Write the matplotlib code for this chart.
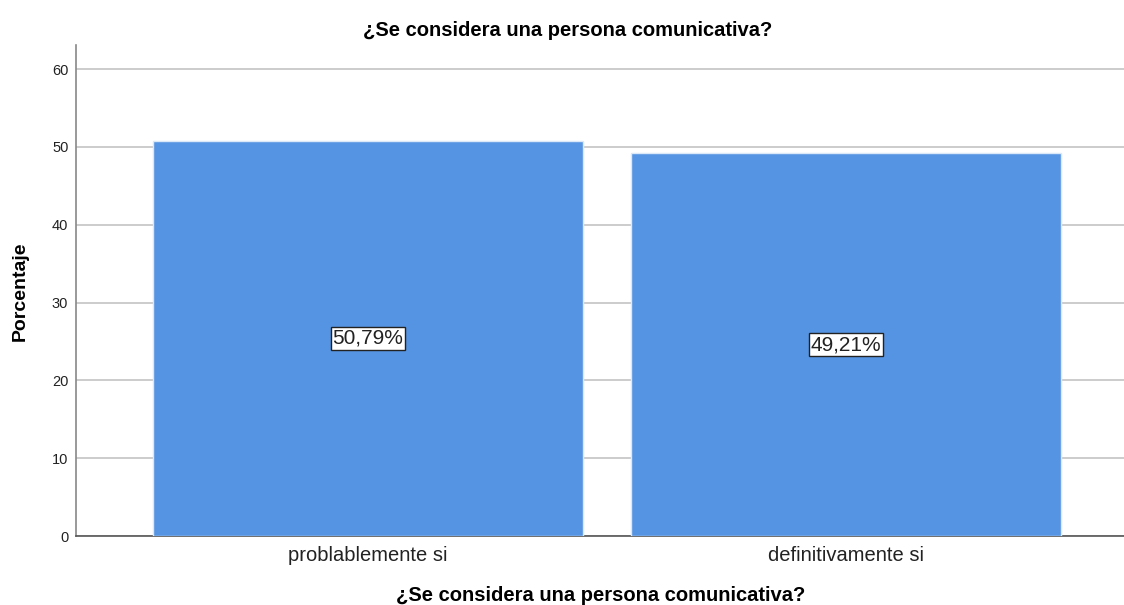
import matplotlib
matplotlib.use("Agg")
import matplotlib.pyplot as plt

plt.rcParams['font.family'] = ['Liberation Sans', 'DejaVu Sans']

# Data
categories = ['problablemente si', 'definitivamente si']
percentages = [50.79, 49.21]
labels = ['50,79%', '49,21%']
yticks = [0, 10, 20, 30, 40, 50, 60]
title = '¿Se considera una persona comunicativa?'

fig = plt.figure(figsize=(11.24, 6.05), dpi=100)
ax = fig.add_axes([0.0676, 0.114, 0.9324, 0.8116])

pos = range(len(categories))
ax.bar(pos, percentages, width=0.9, color='#5594e3', edgecolor='#dbe8f8', linewidth=1, zorder=3)

# value labels in the middle of each bar
for x, v, t in zip(pos, percentages, labels):
    ax.text(x, v / 2, t, ha='center', va='center', fontsize=15, color='#222222', zorder=4,
            bbox=dict(boxstyle='square,pad=0.08', facecolor='white', edgecolor='#222222', linewidth=1))

ax.set_xlim(-0.611, 1.582)
ax.set_ylim(0, 63.1)
ax.set_yticks(yticks)
ax.set_xticks(list(pos))
ax.set_xticklabels(categories, fontsize=14.5)
ax.tick_params(axis='y', labelsize=10.5, length=0, pad=5.5, colors='#222222')
ax.tick_params(axis='x', length=0, pad=7, colors='#222222')
ax.yaxis.grid(True, color='#c8c8c8', linewidth=1.3, zorder=0)

for s in ['top', 'right']:
    ax.spines[s].set_visible(False)
ax.spines['left'].set_color('#888888')
ax.spines['bottom'].set_color('#555555')
ax.spines['left'].set_linewidth(1.2)
ax.spines['bottom'].set_linewidth(1.2)

fig.text(0.018, 0.519, 'Porcentaje', ha='center', va='center', rotation=90,
         fontsize=14, fontweight='bold')
fig.text(0.534, 0.015, title, ha='center', va='center', fontsize=14.5, fontweight='bold')
fig.text(0.505, 0.949, title, ha='center', va='center', fontsize=14.5, fontweight='bold')

fig.savefig('out.png', dpi=100)
